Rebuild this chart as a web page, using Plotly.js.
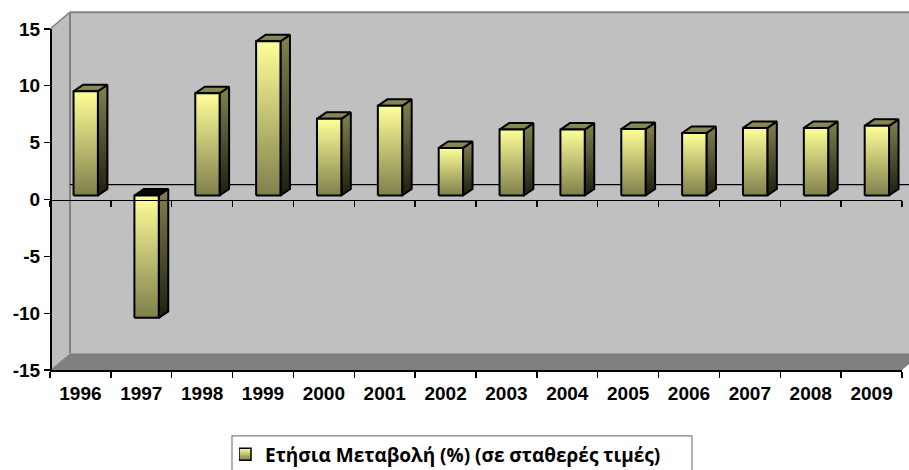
<!DOCTYPE html>
<html>
<head>
<meta charset="utf-8">
<script src="https://cdn.plot.ly/plotly-3.0.1.min.js"></script>
<style>html,body{margin:0;padding:0;background:#fff;overflow:hidden}</style>
</head>
<body>
<div id="chart" style="width:909px;height:470px"></div>
<script>
const categories = ['1996','1997','1998','1999','2000','2001','2002','2003','2004','2005','2006','2007','2008','2009'];
const values = [9.17,-10.76,9.0,13.57,6.75,7.89,4.19,5.8,5.8,5.85,5.5,5.95,5.95,6.13];
const seriesName = 'Ετήσια Μεταβολή (%) (σε σταθερές τιμές)';
const yTickValues = [-15,-10,-5,0,5,10,15];
const yTickLabels = ['-15','-10','-5','0','5','10','15'];

const FONT = 'Liberation Sans, Arial, sans-serif';
const xRange = [-0.5, categories.length - 0.5];
const yRange = [-15, 15];
const boundaries = categories.map((c, i) => i - 0.5).concat([categories.length - 0.5]);
const centers = categories.map((c, i) => i);

// 3D look, in axis units
const barW = 0.4, barShiftX = 0.087, barBase = 0.35, depthX = 0.156, depthY = 0.57;
const wallX = 0.329, wallY = 1.48, backZero = 1.3;

const frontScale = [[0,'#7f7f4c'],[1,'#ffff99']];
const sideScale = [[0,'#1e1e0f'],[1,'#828250']];
const topScale = [[0,'#7f7f4c'],[1,'#8f8f5a']];
const blackScale = [[0,'#000000'],[1,'#0a0a05']];

function face(xs, ys, scale) {
  return {
    type: 'scatter', mode: 'lines', x: xs.concat(xs[0]), y: ys.concat(ys[0]),
    xaxis: 'x2', yaxis: 'y', fill: 'toself',
    fillgradient: {type: 'vertical', colorscale: scale},
    line: {color: '#000', width: 2}, showlegend: false, hoverinfo: 'skip'
  };
}

const traces = [];
// Legend entry, kept on the main subplot
traces.push({
  type: 'scatter', mode: 'markers', x: [null], y: [null], name: seriesName,
  xaxis: 'x', yaxis: 'y', showlegend: true, hoverinfo: 'skip',
  marker: {symbol: 'square', size: 12, color: '#ffff99',
    gradient: {type: 'vertical', color: '#7f7f4c'},
    line: {color: '#000', width: 1.5}}
});
values.forEach((v, i) => {
  const x0 = i + barShiftX - barW / 2, x1 = x0 + barW;
  const lo = v < 0 ? v + barBase : barBase;
  const hi = v < 0 ? barBase : v + barBase;
  traces.push(face([x1, x1 + depthX, x1 + depthX, x1], [lo, lo + depthY, hi + depthY, hi], sideScale));
  traces.push(face([x0, x1, x1 + depthX, x0 + depthX], [hi, hi, hi + depthY, hi + depthY], v < 0 ? blackScale : topScale));
  traces.push(face([x0, x1, x1, x0], [lo, lo, hi, hi], frontScale));
});

const px = x => (x - xRange[0]) / (xRange[1] - xRange[0]);
const py = y => (y - yRange[0]) / (yRange[1] - yRange[0]);
function poly(points, fill, line) {
  return {
    type: 'path', xref: 'paper', yref: 'paper', layer: 'below',
    path: points.map((p, i) => (i ? 'L' : 'M') + px(p[0]) + ',' + py(p[1])).join(' ') + ' Z',
    fillcolor: fill, line: line
  };
}
const L = xRange[0], R = xRange[1], B = yRange[0], T = yRange[1];
const shapes = [
  poly([[L+wallX,B+wallY],[R+wallX,B+wallY],[R+wallX,T+wallY],[L+wallX,T+wallY]], '#c0c0c0', {width: 0}),
  poly([[L,B],[L+wallX,B+wallY],[L+wallX,T+wallY],[L,T]], '#bebebe', {width: 0}),
  poly([[L,B],[R,B],[R+wallX,B+wallY],[L+wallX,B+wallY]], '#808080', {width: 0}),
  {type:'line', xref:'paper', yref:'paper', layer:'below', x0:px(L+wallX), x1:px(L+wallX), y0:py(B+wallY), y1:py(T+wallY), line:{color:'#808080', width:2}},
  {type:'line', xref:'paper', yref:'paper', layer:'below', x0:px(L+wallX), x1:px(R+wallX), y0:py(T+wallY), y1:py(T+wallY), line:{color:'#808080', width:2}},
  {type:'line', xref:'paper', yref:'paper', layer:'below', x0:px(L), x1:px(L+wallX), y0:py(T), y1:py(T+wallY), line:{color:'#808080', width:1.5}},
  {type:'line', xref:'paper', yref:'paper', layer:'below', x0:px(L+wallX), x1:px(R+wallX), y0:py(backZero), y1:py(backZero), line:{color:'#000', width:1.2}},
  {type:'rect', xref:'paper', yref:'paper', layer:'below', x0:(232-50)/852, x1:(692-50)/852, y0:(370.5-480)/341.5, y1:(370.5-436.5)/341.5, fillcolor:'#fff', line:{color:'#808080', width:1.2}}
];

const tickFont = {family: FONT, size: 19, color: '#000', weight: 'bold'};
const layout = {
  width: 909, height: 470, autosize: false,
  margin: {l: 50, r: 7, t: 29, b: 99.5, pad: 0, autoexpand: false},
  paper_bgcolor: '#fff', plot_bgcolor: 'rgba(0,0,0,0)',
  showlegend: true,
  legend: {
    x: (239 - 50) / 852, xanchor: 'left', y: (370.5 - 455) / 341.5, yanchor: 'middle',
    bgcolor: 'rgba(0,0,0,0)', borderwidth: 0, indentation: -14,
    font: {family: 'Open Sans, ' + FONT, size: 19, color: '#000', weight: 'bold'}
  },
  xaxis: {
    type: 'linear', range: xRange, anchor: 'free', position: py(0), side: 'bottom',
    showgrid: false, zeroline: false, showline: true, linecolor: '#000', linewidth: 1.5,
    tickmode: 'array', tickvals: boundaries, ticktext: boundaries.map(() => ''),
    ticks: 'outside', ticklen: 6, tickcolor: '#000', tickwidth: 1.3, fixedrange: true
  },
  xaxis2: {
    type: 'linear', range: xRange, overlaying: 'x', anchor: 'free', position: 0, side: 'bottom',
    showgrid: false, zeroline: false, showline: true, linecolor: '#000', linewidth: 1.5,
    tickmode: 'array', tickvals: centers, ticktext: categories, ticks: '', tickfont: tickFont,
    ticklabelstandoff: 6,
    minor: {tickmode: 'array', tickvals: boundaries, ticks: 'outside', ticklen: 6, tickcolor: '#000', tickwidth: 1.3, showgrid: false},
    fixedrange: true
  },
  yaxis: {
    type: 'linear', range: yRange, anchor: 'free', position: 0,
    showgrid: false, zeroline: false, showline: true, linecolor: '#000', linewidth: 1.5,
    tickmode: 'array', tickvals: yTickValues, ticktext: yTickLabels, ticks: 'outside',
    ticklen: 6, tickcolor: '#000', tickwidth: 1.3, tickfont: tickFont, fixedrange: true
  },
  shapes: shapes
};
Plotly.newPlot('chart', traces, layout, {displayModeBar: false, staticPlot: true});
</script>
</body>
</html>
